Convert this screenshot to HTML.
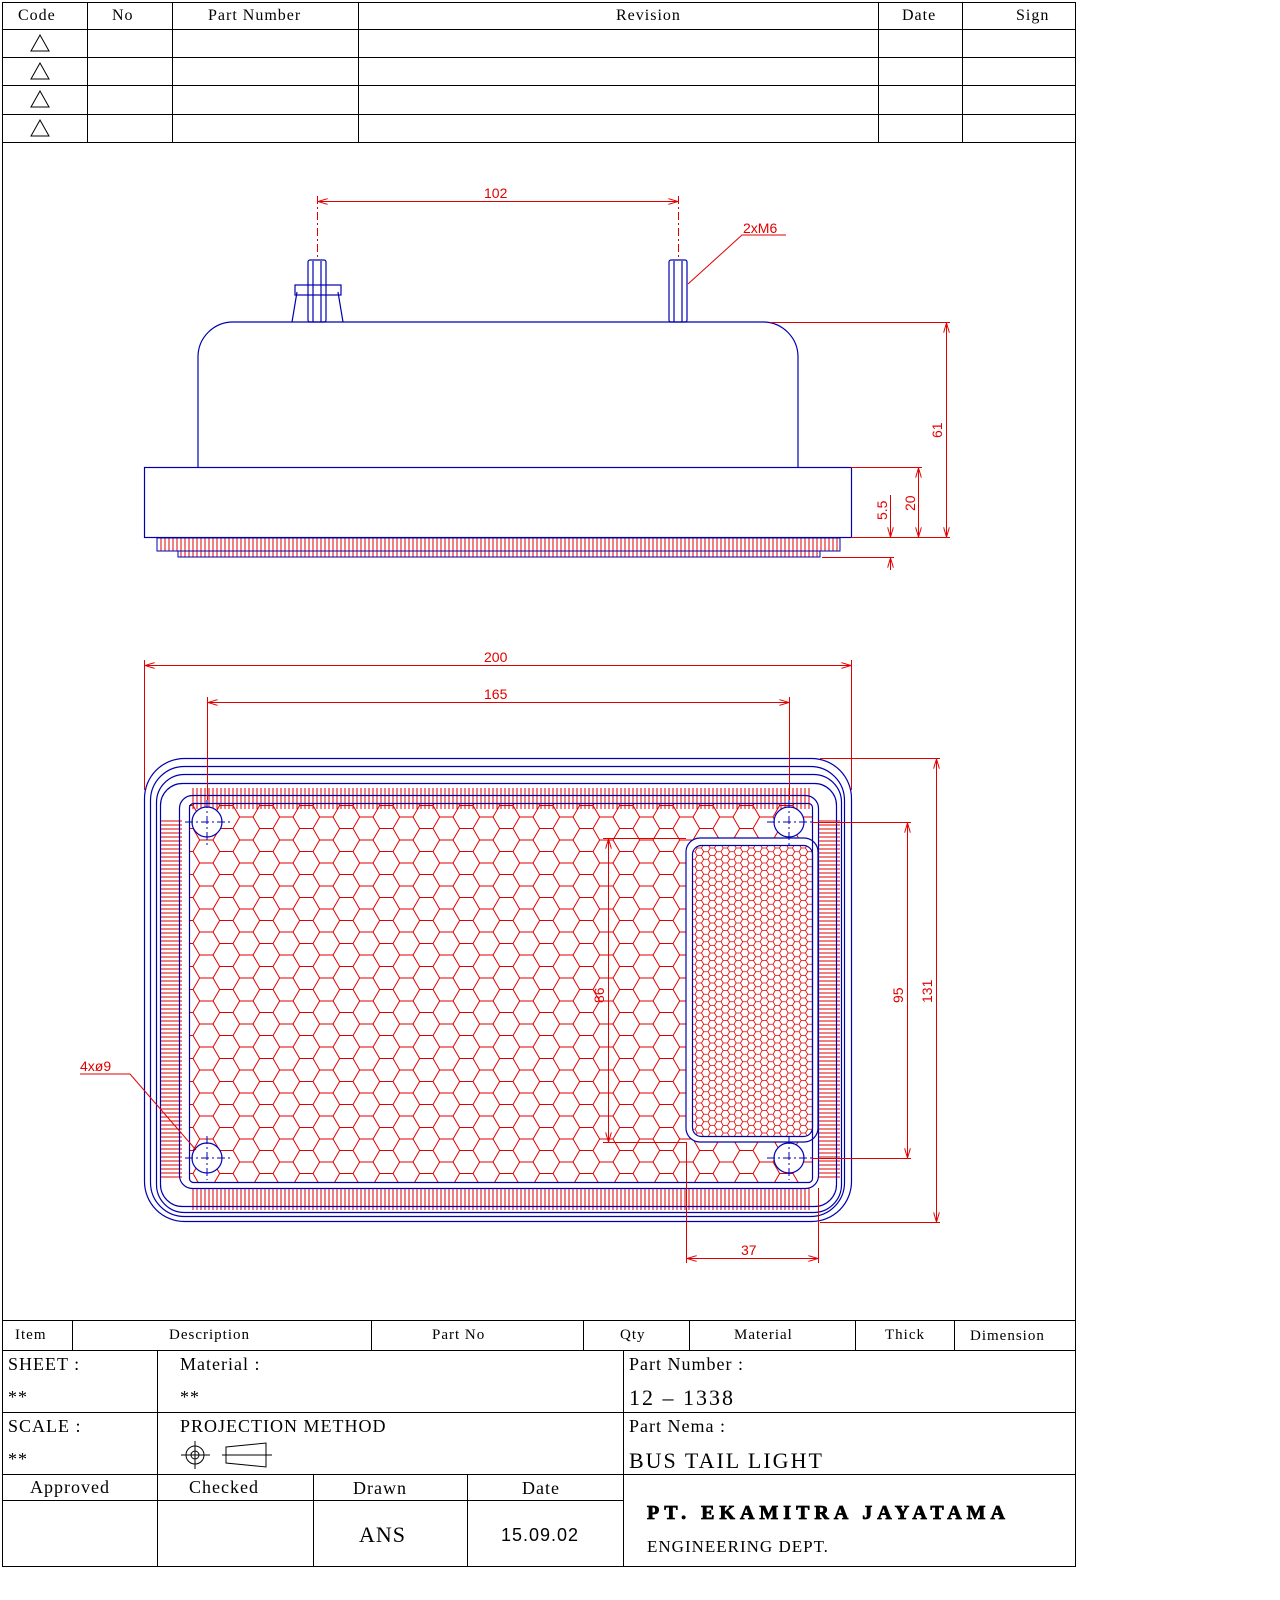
<!DOCTYPE html>
<html><head><meta charset="utf-8"><style>
html,body{margin:0;padding:0;background:#fff;}
svg{display:block;}
.t{font-family:"Liberation Serif",serif;fill:#000;white-space:pre;letter-spacing:1px;}
.d{font-family:"Liberation Sans",sans-serif;fill:#e00000;font-size:14px;}
</style></head><body>
<svg width="1280" height="1600" viewBox="0 0 1280 1600" xmlns="http://www.w3.org/2000/svg">
<defs>
<pattern id="hex" width="40" height="23" patternUnits="userSpaceOnUse" x="193" y="817">
<path d="M6.67 0H20L26.67 11.5H40M26.67 11.5L20 23H6.67M6.67 0L0 11.5L6.67 23" fill="none" stroke="#e00000" stroke-width="1"/>
</pattern>
<pattern id="hexs" width="13" height="7.5" patternUnits="userSpaceOnUse" x="695" y="848">
<path d="M2.17 0H6.5L8.67 3.75H13M8.67 3.75L6.5 7.5H2.17M2.17 0L0 3.75L2.17 7.5" fill="none" stroke="#e00000" stroke-width="0.8"/>
</pattern>
<pattern id="vh" width="4" height="10" patternUnits="userSpaceOnUse">
<line x1="1" y1="0" x2="1" y2="10" stroke="#e00000" stroke-width="1"/>
</pattern>
<pattern id="hh" width="10" height="4" patternUnits="userSpaceOnUse">
<line x1="0" y1="1" x2="10" y2="1" stroke="#e00000" stroke-width="1"/>
</pattern>
<marker id="a" viewBox="0 0 10 6" refX="10" refY="3" markerWidth="10" markerHeight="6" orient="auto-start-reverse" markerUnits="userSpaceOnUse">
<path d="M0 0L10 3L0 6" fill="none" stroke="#e00000" stroke-width="1"/>
</marker>
</defs>

<g stroke="#000" stroke-width="1" fill="none">
<rect x="2.5" y="2.5" width="1073" height="1564"/>
<line x1="2" y1="29.5" x2="1075" y2="29.5"/>
<line x1="2" y1="57.5" x2="1075" y2="57.5"/>
<line x1="2" y1="85.5" x2="1075" y2="85.5"/>
<line x1="2" y1="114.5" x2="1075" y2="114.5"/>
<line x1="2" y1="142.5" x2="1075" y2="142.5"/>
<line x1="87.5" y1="2" x2="87.5" y2="142"/>
<line x1="172.5" y1="2" x2="172.5" y2="142"/>
<line x1="358.5" y1="2" x2="358.5" y2="142"/>
<line x1="878.5" y1="2" x2="878.5" y2="142"/>
<line x1="962.5" y1="2" x2="962.5" y2="142"/>
<path d="M40 35L31 51H49Z M40 63L31 79H49Z M40 91L31 107H49Z M40 120L31 136H49Z"/>
<line x1="2" y1="1320.5" x2="1075" y2="1320.5"/>
<line x1="2" y1="1350.5" x2="1075" y2="1350.5"/>
<line x1="2" y1="1412.5" x2="1075" y2="1412.5"/>
<line x1="2" y1="1474.5" x2="1075" y2="1474.5"/>
<line x1="2" y1="1500.5" x2="623" y2="1500.5"/>
<line x1="72.5" y1="1320" x2="72.5" y2="1350"/>
<line x1="371.5" y1="1320" x2="371.5" y2="1350"/>
<line x1="583.5" y1="1320" x2="583.5" y2="1350"/>
<line x1="689.5" y1="1320" x2="689.5" y2="1350"/>
<line x1="855.5" y1="1320" x2="855.5" y2="1350"/>
<line x1="954.5" y1="1320" x2="954.5" y2="1350"/>
<line x1="157.5" y1="1350" x2="157.5" y2="1566"/>
<line x1="623.5" y1="1350" x2="623.5" y2="1566"/>
<line x1="313.5" y1="1474" x2="313.5" y2="1566"/>
<line x1="467.5" y1="1474" x2="467.5" y2="1566"/>
<circle cx="195" cy="1455" r="9"/><circle cx="195" cy="1455" r="4"/>
<line x1="181" y1="1455" x2="210" y2="1455"/><line x1="195" y1="1441" x2="195" y2="1469"/>
<path d="M226 1447L266 1443V1467L226 1463Z"/><line x1="222" y1="1455" x2="272" y2="1455"/>
</g>
<g class="t" font-size="16">
<text x="18" y="20">Code</text><text x="112" y="20">No</text><text x="208" y="20">Part  Number</text>
<text x="616" y="20">Revision</text><text x="902" y="20">Date</text><text x="1016" y="20">Sign</text>
<text x="15" y="1339" font-size="15">Item</text><text x="169" y="1339" font-size="15">Description</text>
<text x="432" y="1339" font-size="15">Part  No</text><text x="620" y="1339" font-size="15">Qty</text>
<text x="734" y="1339" font-size="15">Material</text><text x="885" y="1339" font-size="15">Thick</text>
<text x="970" y="1340" font-size="15">Dimension</text>
<text x="8" y="1370" font-size="18">SHEET  :</text><text x="8" y="1403" font-size="18">**</text>
<text x="180" y="1370" font-size="18">Material  :</text><text x="180" y="1403" font-size="18">**</text>
<text x="629" y="1370" font-size="18">Part  Number  :</text><text x="629" y="1405" font-size="22" letter-spacing="2">12  –  1338</text>
<text x="8" y="1432" font-size="18">SCALE  :</text><text x="8" y="1465" font-size="18">**</text>
<text x="180" y="1432" font-size="18">PROJECTION  METHOD</text>
<text x="629" y="1432" font-size="18">Part  Nema  :</text><text x="629" y="1468" font-size="22" letter-spacing="2">BUS  TAIL  LIGHT</text>
<text x="30" y="1493" font-size="18">Approved</text><text x="189" y="1493" font-size="18">Checked</text>
<text x="353" y="1494" font-size="18">Drawn</text><text x="522" y="1494" font-size="18">Date</text>
<text x="359" y="1542" font-size="22">ANS</text><text x="501" y="1541" font-size="18" font-family="Liberation Sans">15.09.02</text>
<text x="647" y="1519" font-size="20" font-weight="bold" stroke="#000" stroke-width="0.8" letter-spacing="5">PT. EKAMITRA JAYATAMA</text>
<text x="647" y="1552" font-size="17">ENGINEERING  DEPT.</text>
</g>

<g stroke="#0000b0" stroke-width="1.2" fill="none">
<path d="M198 467V357A35 35 0 0 1 233 322H763A35 35 0 0 1 798 357V467"/>
<rect x="144.5" y="467.5" width="707" height="70"/>
<rect x="308" y="260" width="18" height="62" rx="2"/><line x1="313" y1="261" x2="313" y2="322"/><line x1="321" y1="261" x2="321" y2="322"/>
<path d="M297 292L292 322M338 292L343 322"/><rect x="295" y="285" width="46" height="10"/>
<rect x="669" y="260" width="18" height="62" rx="2"/><line x1="674" y1="261" x2="674" y2="322"/><line x1="682" y1="261" x2="682" y2="322"/>
</g>
<rect x="157" y="538" width="683" height="13" fill="url(#vh)" stroke="#0000b0" stroke-width="1"/>
<rect x="178" y="551" width="642" height="6" fill="url(#vh)" stroke="#0000b0" stroke-width="1"/>
<g stroke="#e00000" stroke-width="1" fill="none">
<line x1="317.5" y1="196" x2="317.5" y2="258" stroke-dasharray="8 3 2 3"/>
<line x1="678.5" y1="196" x2="678.5" y2="258" stroke-dasharray="8 3 2 3"/>
<line x1="318" y1="201.5" x2="678" y2="201.5" marker-start="url(#a)" marker-end="url(#a)"/>
<path d="M688 284L742 235H786"/>
<line x1="770" y1="322.5" x2="950" y2="322.5"/><line x1="851" y1="467.5" x2="922" y2="467.5"/>
<line x1="851" y1="537.5" x2="950" y2="537.5"/><line x1="822" y1="557.5" x2="894" y2="557.5"/>
<line x1="946.5" y1="323" x2="946.5" y2="537" marker-start="url(#a)" marker-end="url(#a)"/>
<line x1="918.5" y1="468" x2="918.5" y2="537" marker-start="url(#a)" marker-end="url(#a)"/>
<line x1="890.5" y1="495" x2="890.5" y2="537" marker-end="url(#a)"/>
<line x1="890.5" y1="570" x2="890.5" y2="558" marker-end="url(#a)"/>
</g>
<g class="d">
<text x="484" y="198">102</text><text x="743" y="233">2xM6</text>
<text transform="translate(942,438) rotate(-90)">61</text>
<text transform="translate(915,511) rotate(-90)">20</text>
<text transform="translate(887,520) rotate(-90)">5.5</text>
</g>

<g stroke="#0000b0" stroke-width="1.2" fill="none">
<rect x="144.5" y="758.5" width="707" height="463" rx="40"/>
<rect x="150.5" y="766.5" width="694" height="450" rx="34"/>
<rect x="156.5" y="774.5" width="685" height="438" rx="28"/>
</g>
<rect x="190" y="788" width="620" height="21" fill="url(#vh)"/>
<rect x="190" y="1188" width="620" height="22" fill="url(#vh)"/>
<rect x="160" y="820" width="22" height="360" fill="url(#hh)"/>
<rect x="818" y="820" width="22" height="360" fill="url(#hh)"/>
<g stroke="#0000b0" stroke-width="1.2" fill="none">
<rect x="160.5" y="783.5" width="676" height="423" rx="22"/>
<rect x="179.5" y="795.5" width="639" height="393" rx="13"/>
</g>
<rect x="189" y="803" width="623" height="379" fill="url(#hex)"/>
<rect x="686" y="838" width="132" height="304" rx="14" fill="#fff" stroke="#0000b0" stroke-width="1.2"/>
<rect x="692.5" y="845.5" width="120" height="291" rx="9" fill="url(#hexs)" stroke="#0000b0" stroke-width="1.2"/>
<rect x="189.5" y="803.5" width="623" height="379" rx="4" fill="none" stroke="#0000b0" stroke-width="1.2"/>
<g stroke="#0000b0" stroke-width="1.2" fill="#fff">
<circle cx="207" cy="822" r="15"/><circle cx="789" cy="822" r="15"/>
<circle cx="207" cy="1158" r="15"/><circle cx="789" cy="1158" r="15"/>
</g>
<g stroke="#0000b0" stroke-width="1" stroke-dasharray="8 3 2 3">
<path d="M185 822H231M207 800V846M767 822H813M789 800V846M185 1158H231M207 1136V1180M767 1158H813M789 1136V1180"/>
</g>
<g stroke="#e00000" stroke-width="1" fill="none">
<line x1="144.5" y1="660" x2="144.5" y2="790"/><line x1="851.5" y1="660" x2="851.5" y2="790"/>
<line x1="145" y1="665.5" x2="851" y2="665.5" marker-start="url(#a)" marker-end="url(#a)"/>
<line x1="207.5" y1="697" x2="207.5" y2="800"/><line x1="789.5" y1="697" x2="789.5" y2="800"/>
<line x1="208" y1="702.5" x2="789" y2="702.5" marker-start="url(#a)" marker-end="url(#a)"/>
<line x1="820" y1="758.5" x2="940" y2="758.5"/><line x1="820" y1="1222.5" x2="940" y2="1222.5"/>
<line x1="936.5" y1="759" x2="936.5" y2="1222" marker-start="url(#a)" marker-end="url(#a)"/>
<line x1="812" y1="822.5" x2="911" y2="822.5"/><line x1="812" y1="1158.5" x2="911" y2="1158.5"/>
<line x1="907.5" y1="823" x2="907.5" y2="1158" marker-start="url(#a)" marker-end="url(#a)"/>
<line x1="603" y1="838.5" x2="686" y2="838.5"/><line x1="603" y1="1142.5" x2="686" y2="1142.5"/>
<line x1="608.5" y1="839" x2="608.5" y2="1142" marker-start="url(#a)" marker-end="url(#a)"/>
<line x1="686.5" y1="1142" x2="686.5" y2="1263"/><line x1="818.5" y1="1188" x2="818.5" y2="1263"/>
<line x1="687" y1="1258.5" x2="818" y2="1258.5" marker-start="url(#a)" marker-end="url(#a)"/>
<path d="M80 1074H130L196 1150"/>
</g>
<g class="d">
<text x="484" y="662">200</text><text x="484" y="699">165</text>
<text x="741" y="1255">37</text>
<text transform="translate(932,1003) rotate(-90)">131</text>
<text transform="translate(903,1003) rotate(-90)">95</text>
<text transform="translate(604,1003) rotate(-90)">86</text>
<text x="80" y="1071">4xø9</text>
</g>
</svg>
</body></html>
